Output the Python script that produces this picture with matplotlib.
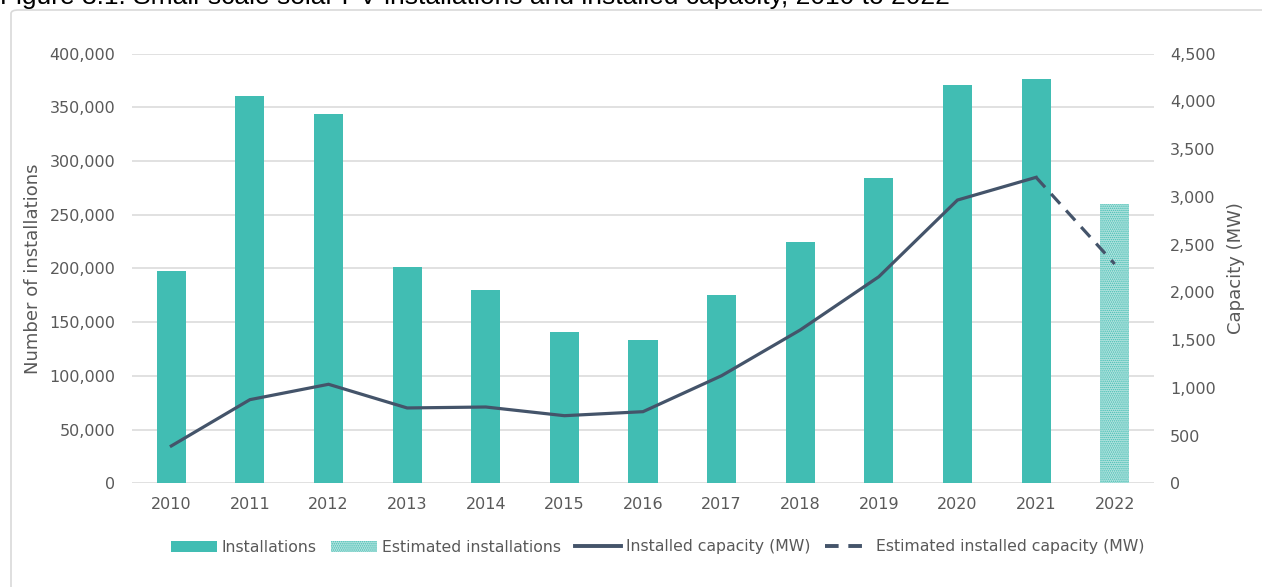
import numpy as np
import matplotlib
matplotlib.use("Agg")
import matplotlib.pyplot as plt
from matplotlib.patches import Patch, FancyBboxPatch
from matplotlib.lines import Line2D
from matplotlib.ticker import FuncFormatter, MultipleLocator

# Small-scale solar PV, 2010-2021 actuals plus 2022 estimate
years = ["2010", "2011", "2012", "2013", "2014", "2015", "2016",
         "2017", "2018", "2019", "2020", "2021", "2022"]
installations = [198000, 361000, 344000, 201000, 180000, 141000, 133000,
                 175000, 225000, 284000, 371000, 376000]
est_installations = [260000]
capacity_mw = [391, 876, 1037, 789, 799, 708, 750,
               1127, 1606, 2164, 2967, 3205]
est_capacity_mw = [2297]

title = ("Figure 3.1: Small-scale solar PV installations and installed "
         "capacity, 2010 to 2022")

TEAL = "#41bdb3"
EST_FILL = "#b3e3de"
SLATE = "#44546a"
GREY = "#595959"
GRID = "#d9d9d9"

plt.rcParams["font.family"] = "DejaVu Sans"
plt.rcParams["hatch.linewidth"] = 0.7

W, H = 1262, 587
fig = plt.figure(figsize=(W / 100, H / 100), dpi=100)

# caption sits mostly above the canvas, only the lower part shows
fig.text(0.0, 1 - 4 / H, title, va="baseline", ha="left",
         fontsize=19, family="Liberation Sans", color="#000000")

# light frame round the chart area
fig.patches.append(FancyBboxPatch((11 / W, -0.05), 1.1, 1 - 10 / H + 0.05,
                                  boxstyle="round,pad=0,rounding_size=0.006",
                                  transform=fig.transFigure, fill=False,
                                  edgecolor=GRID, linewidth=1.2))

ax = fig.add_axes([132 / W, 0.1767, 1022 / W, 0.7318])
x = np.arange(len(years))
n_act = len(installations)

ax.bar(x[:n_act], installations, width=0.37, color=TEAL, zorder=2)
ax.bar(x[n_act:], est_installations, width=0.37, color=EST_FILL,
       edgecolor=TEAL, linewidth=0, hatch="........", zorder=2)

ax.set_xlim(-0.5, len(years) - 0.5)
ax.set_ylim(0, 400000)
ax.yaxis.set_major_locator(MultipleLocator(50000))
ax.yaxis.set_major_formatter(FuncFormatter(lambda v, p: f"{v:,.0f}"))
ax.set_xticks(x)
ax.set_xticklabels(years)
ax.grid(axis="y", color=GRID, linewidth=1.1, zorder=0)
ax.set_axisbelow(True)
for s in ax.spines.values():
    s.set_visible(False)
ax.tick_params(axis="both", length=0, colors=GREY, labelsize=11.5)
ax.tick_params(axis="y", pad=12)
ax.tick_params(axis="x", pad=10)
ax.set_ylabel("Number of installations", fontsize=13, color=GREY, labelpad=5)

ax2 = ax.twinx()
ax2.plot(x[:n_act], capacity_mw, color=SLATE, linewidth=2.3,
         solid_joinstyle="miter", zorder=3)
ax2.plot([x[n_act - 1], x[n_act]], [capacity_mw[-1], est_capacity_mw[0]],
         color=SLATE, linewidth=2.3, dashes=(4.2, 2.8), zorder=3)
ax2.set_ylim(0, 4500)
ax2.yaxis.set_major_locator(MultipleLocator(500))
ax2.yaxis.set_major_formatter(FuncFormatter(lambda v, p: f"{v:,.0f}"))
for s in ax2.spines.values():
    s.set_visible(False)
ax2.tick_params(axis="y", length=0, colors=GREY, labelsize=11.5, pad=11.5)
ax2.set_ylabel("Capacity (MW)", fontsize=13, color=GREY, labelpad=8)

handles = [
    Patch(facecolor=TEAL, edgecolor="none"),
    Patch(facecolor=EST_FILL, edgecolor=TEAL, linewidth=0, hatch="........"),
    Line2D([], [], color=SLATE, linewidth=2.8),
    Line2D([], [], color=SLATE, linewidth=2.8, dashes=(3.5, 2.5)),
]
labels = ["Installations", "Estimated installations",
          "Installed capacity (MW)", "Estimated installed capacity (MW)"]
fig.legend(handles, labels, loc="center", bbox_to_anchor=(0.521, 1 - 547 / H),
           ncol=4, frameon=False, fontsize=11.3, labelcolor=GREY,
           handlelength=2.95, handletextpad=0.3, columnspacing=0.9)

fig.savefig("out.png", dpi=100)
